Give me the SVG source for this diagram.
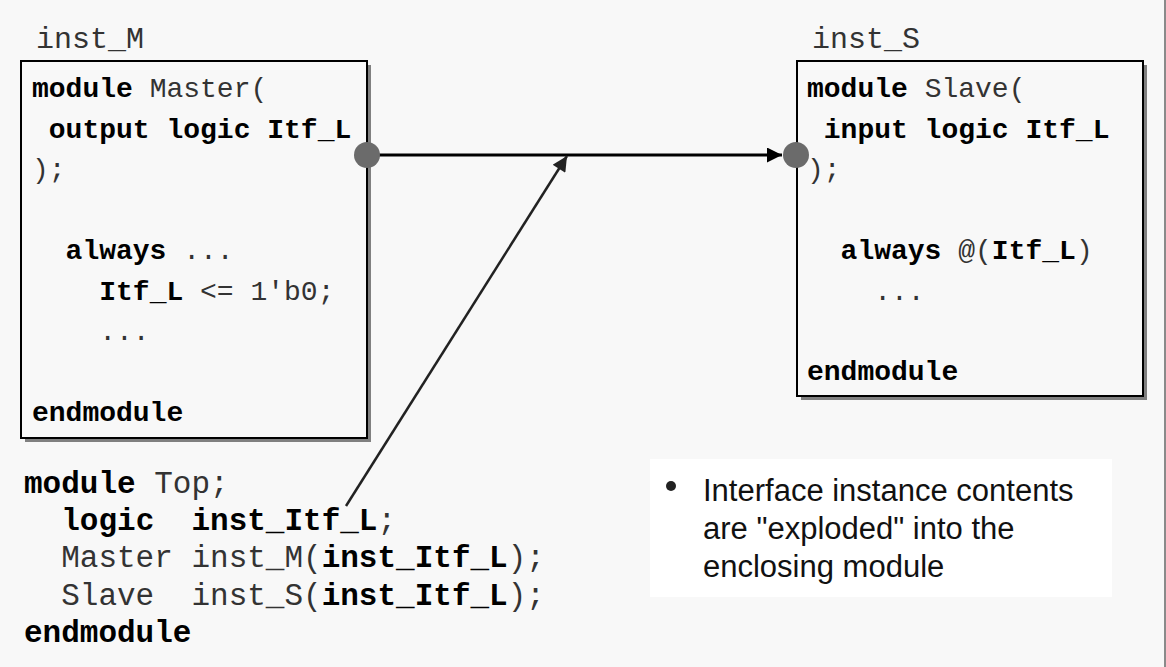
<svg xmlns="http://www.w3.org/2000/svg" width="1166" height="667" viewBox="0 0 1166 667">
<defs>
<style>
.bg{fill:#f8f8f8}
.shadow{fill:#808080}
.box{fill:#f8f8f8;stroke:#000;stroke-width:2}
.code{font-family:"Liberation Mono","Courier New",monospace;font-size:28px;fill:#333;white-space:pre}
.top{font-size:31px}
.lbl{font-family:"Liberation Mono","Courier New",monospace;font-size:30px;fill:#333;white-space:pre}
.b{font-weight:bold;fill:#000}
.port{fill:#6b6b6b}
.wire{stroke:#000;stroke-width:3;fill:none}
.ptr{stroke:#222;stroke-width:2.5;fill:none}
.note{font-family:"Liberation Sans",Arial,sans-serif;font-size:31px;fill:#111}
</style>
<marker id="ah" viewBox="0 0 10 10" refX="10" refY="5" markerWidth="17" markerHeight="15" markerUnits="userSpaceOnUse" orient="auto">
<path d="M0,0 L10,5 L0,10 Z" fill="#000"/>
</marker>
<marker id="ah2" viewBox="0 0 10 10" refX="10" refY="5" markerWidth="18" markerHeight="15" markerUnits="userSpaceOnUse" orient="auto">
<path d="M0,0 L10,5 L0,10 Z" fill="#222"/>
</marker>
</defs>
<rect class="bg" x="0" y="0" width="1166" height="667"/>
<line x1="1165" y1="0" x2="1165" y2="667" stroke="#8a8a8a" stroke-width="2"/>

<g id="inst_M">
<text class="lbl" x="36" y="48">inst_M</text>
<rect class="shadow" x="25" y="65" width="346" height="377"/>
<rect class="box" x="21" y="61" width="346" height="377"/>
<text class="code" xml:space="preserve" x="32" y="97"><tspan class="b">module</tspan> Master(</text>
<text class="code b" xml:space="preserve" x="32" y="137.5"> output logic Itf_L</text>
<text class="code" xml:space="preserve" x="32" y="178">);</text>
<text class="code" xml:space="preserve" x="32" y="259">  <tspan class="b">always</tspan> ...</text>
<text class="code" xml:space="preserve" x="32" y="299.5">    <tspan class="b">Itf_L</tspan> &lt;= 1'b0;</text>
<text class="code" xml:space="preserve" x="32" y="340">    ...</text>
<text class="code b" xml:space="preserve" x="32" y="421">endmodule</text>
</g>

<g id="inst_S">
<text class="lbl" x="812" y="48">inst_S</text>
<rect class="shadow" x="801" y="65" width="346" height="335"/>
<rect class="box" x="797" y="61" width="346" height="335"/>
<text class="code" xml:space="preserve" x="807" y="97"><tspan class="b">module</tspan> Slave(</text>
<text class="code b" xml:space="preserve" x="807" y="137.5"> input logic Itf_L</text>
<text class="code" xml:space="preserve" x="807" y="178">);</text>
<text class="code" xml:space="preserve" x="807" y="259">  <tspan class="b">always</tspan> @(<tspan class="b">Itf_L</tspan>)</text>
<text class="code" xml:space="preserve" x="807" y="300">    ...</text>
<text class="code b" xml:space="preserve" x="807" y="380">endmodule</text>
</g>

<g id="top_code">
<text class="code top" xml:space="preserve" x="24" y="493"><tspan class="b">module</tspan> Top;</text>
<text class="code top" xml:space="preserve" x="24" y="530">  <tspan class="b">logic  inst_Itf_L</tspan>;</text>
<text class="code top" xml:space="preserve" x="24" y="567">  Master inst_M(<tspan class="b">inst_Itf_L</tspan>);</text>
<text class="code top" xml:space="preserve" x="24" y="605">  Slave  inst_S(<tspan class="b">inst_Itf_L</tspan>);</text>
<text class="code top b" xml:space="preserve" x="24" y="642">endmodule</text>
</g>

<g id="note">
<rect x="650" y="459" width="462" height="138" fill="#ffffff"/>
<circle cx="671" cy="486" r="5" fill="#222"/>
<text class="note" x="703" y="501">Interface instance contents</text>
<text class="note" x="703" y="539">are "exploded" into the</text>
<text class="note" x="703" y="577">enclosing module</text>
</g>

<g id="connectors">
<line class="wire" x1="367" y1="155" x2="782" y2="155" marker-end="url(#ah)"/>
<line class="ptr" x1="346" y1="506" x2="567" y2="156" marker-end="url(#ah2)"/>
</g>

<g id="ports">
<circle class="port" cx="367" cy="155" r="13"/>
<circle class="port" cx="796" cy="155" r="13"/>
</g>
</svg>
